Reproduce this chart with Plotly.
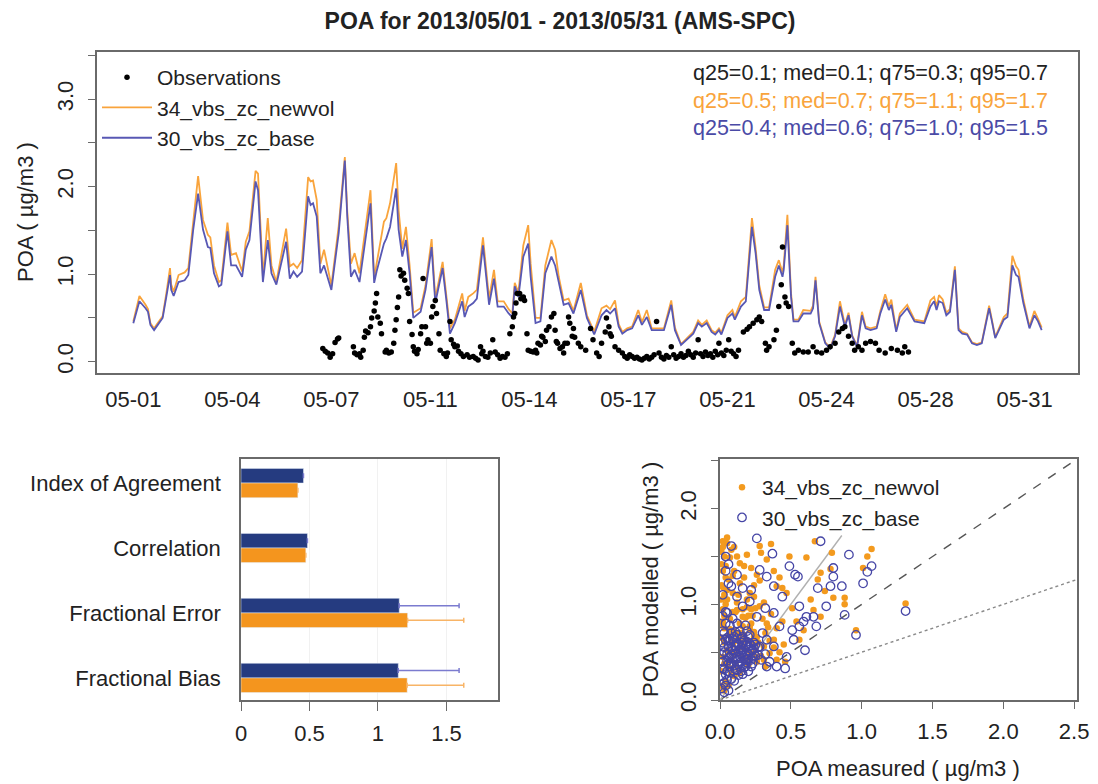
import pandas as pd
import plotly.graph_objects as go

START = pd.Timestamp("2013-05-01 00:00")
FONT = "Liberation Sans, Arial, Helvetica, sans-serif"

# ---------------- time series (hours since 2013-05-01 00:00) ----------------
model_hours = [
    0, 5, 10, 12, 14, 17, 20, 24, 27, 30,
    31, 33, 37, 42, 45, 49, 53, 57, 61, 63,
    66, 70, 72, 77, 80, 84, 89, 92, 95, 100,
    102, 106, 110, 113, 117, 125, 128, 131, 134, 138,
    143, 145, 147, 150, 153, 156, 162, 168, 173, 175,
    178, 181, 185, 194, 197, 199, 205, 207, 210, 215,
    217, 220, 223, 226, 229, 235, 239, 244, 247, 253,
    256, 259, 263, 269, 271, 274, 278, 281, 286, 291,
    295, 298, 303, 307, 310, 312, 315, 319, 323, 325,
    329, 333, 337, 342, 345, 348, 352, 356, 360, 366,
    371, 377, 383, 387, 390, 394, 397, 400, 404, 408,
    413, 416, 420, 424, 427, 434, 440, 443, 448, 453,
    458, 462, 465, 469, 473, 476, 479, 481, 486, 490,
    492, 497, 501, 506, 509, 512, 516, 520, 525, 528,
    531, 532, 535, 538, 540, 544, 548, 554, 556, 558,
    561, 566, 570, 574, 578, 582, 585, 588, 592, 596,
    599, 603, 608, 611, 615, 618, 620, 624, 627, 633,
    639, 647, 652, 655, 657, 659, 662, 665, 668, 672,
    675, 678, 682, 686, 690, 694, 700, 702, 705, 712,
    715, 719, 722, 724, 728, 733, 737, 740, 743,
]
base_values = [
    0.44, 0.69, 0.61, 0.57, 0.42, 0.36, 0.42, 0.50, 0.74, 0.99,
    0.82, 0.75, 0.91, 0.93, 0.99, 1.51, 1.92, 1.51, 1.31, 1.30,
    1.01, 0.86, 0.88, 1.49, 1.10, 1.10, 0.97, 1.28, 1.39, 2.06,
    1.96, 0.91, 1.39, 1.01, 0.88, 1.37, 0.95, 1.03, 0.97, 1.03,
    1.89, 1.79, 1.81, 1.66, 1.01, 1.10, 0.82, 1.47, 2.30, 1.66,
    0.97, 1.05, 0.91, 1.81, 0.90, 1.03, 1.35, 1.41, 1.54, 1.98,
    1.51, 1.20, 1.39, 1.01, 0.50, 0.57, 0.82, 1.31, 0.67, 1.07,
    0.71, 0.32, 0.44, 0.69, 0.51, 0.63, 0.67, 0.72, 1.33, 0.65,
    0.95, 0.63, 0.63, 0.55, 0.51, 0.86, 0.74, 1.20, 1.35, 0.97,
    0.44, 0.46, 1.01, 1.20, 1.10, 0.90, 0.65, 0.67, 0.55, 0.82,
    0.50, 0.31, 0.53, 0.59, 0.55, 0.61, 0.40, 0.32, 0.36, 0.38,
    0.53, 0.42, 0.51, 0.36, 0.36, 0.36, 0.65, 0.36, 0.19, 0.25,
    0.32, 0.44, 0.40, 0.44, 0.34, 0.31, 0.36, 0.31, 0.50, 0.55,
    0.48, 0.63, 0.69, 1.54, 1.24, 0.82, 0.59, 0.59, 0.97, 1.10,
    0.97, 1.05, 1.56, 0.74, 0.46, 0.46, 0.55, 0.55, 0.61, 0.93,
    0.44, 0.21, 0.15, 0.29, 0.63, 0.40, 0.53, 0.29, 0.17, 0.53,
    0.38, 0.36, 0.38, 0.55, 0.71, 0.59, 0.65, 0.34, 0.51, 0.61,
    0.46, 0.44, 0.63, 0.69, 0.59, 0.69, 0.67, 0.53, 0.57, 1.05,
    0.36, 0.32, 0.31, 0.21, 0.19, 0.21, 0.61, 0.48, 0.27, 0.48,
    0.51, 1.10, 0.99, 0.97, 0.67, 0.38, 0.53, 0.46, 0.36,
]
newvol_values = [
    0.46, 0.75, 0.65, 0.60, 0.44, 0.38, 0.44, 0.52, 0.78, 1.07,
    0.88, 0.80, 0.99, 1.02, 1.07, 1.60, 2.12, 1.62, 1.45, 1.42,
    1.10, 0.91, 0.93, 1.59, 1.22, 1.24, 1.03, 1.37, 1.49, 2.18,
    2.15, 0.97, 1.64, 1.10, 0.91, 1.52, 1.09, 1.12, 1.07, 1.16,
    2.11, 2.06, 2.07, 1.85, 1.12, 1.28, 0.87, 1.55, 2.34, 1.72,
    1.12, 1.24, 1.01, 1.96, 0.95, 1.12, 1.60, 1.64, 1.81, 2.27,
    1.73, 1.29, 1.54, 1.10, 0.56, 0.61, 0.87, 1.40, 0.72, 1.14,
    0.75, 0.38, 0.48, 0.78, 0.58, 0.74, 0.78, 0.82, 1.42, 0.72,
    1.05, 0.69, 0.69, 0.60, 0.55, 0.90, 0.79, 1.33, 1.56, 1.12,
    0.50, 0.50, 1.10, 1.39, 1.28, 0.97, 0.70, 0.72, 0.58, 0.90,
    0.53, 0.34, 0.61, 0.64, 0.60, 0.70, 0.43, 0.34, 0.38, 0.40,
    0.59, 0.45, 0.59, 0.38, 0.38, 0.38, 0.70, 0.39, 0.20, 0.27,
    0.34, 0.47, 0.42, 0.47, 0.36, 0.33, 0.38, 0.33, 0.53, 0.59,
    0.51, 0.69, 0.74, 1.64, 1.30, 0.87, 0.62, 0.62, 1.05, 1.16,
    1.02, 1.10, 1.68, 0.78, 0.48, 0.48, 0.59, 0.58, 0.64, 0.97,
    0.46, 0.22, 0.16, 0.31, 0.69, 0.42, 0.56, 0.30, 0.18, 0.57,
    0.40, 0.38, 0.40, 0.58, 0.77, 0.63, 0.71, 0.36, 0.55, 0.65,
    0.48, 0.46, 0.70, 0.74, 0.63, 0.76, 0.71, 0.56, 0.60, 1.09,
    0.38, 0.34, 0.32, 0.22, 0.20, 0.22, 0.64, 0.50, 0.28, 0.51,
    0.55, 1.21, 1.09, 1.05, 0.71, 0.40, 0.58, 0.49, 0.39,
]

obs_hours = [
    155, 157, 159, 161, 163, 165, 167, 168, 180, 181,
    183, 185, 186, 188, 189, 190, 192, 194, 195, 197,
    198, 199, 200, 202, 203, 206, 207, 209, 211, 213,
    214, 215, 216, 217, 218, 219, 221, 222, 224, 225,
    226, 228, 229, 230, 232, 233, 235, 236, 237, 239,
    240, 241, 243, 244, 245, 247, 248, 250, 251, 254,
    256, 257, 259, 260, 262, 263, 265, 266, 268, 270,
    273, 275, 278, 280, 282, 284, 285, 286, 288, 290,
    292, 294, 296, 298, 300, 302, 304, 306, 308, 310,
    311, 312, 313, 314, 316, 317, 319, 320, 322, 323,
    325, 327, 329, 330, 331, 333, 334, 335, 337, 338,
    340, 342, 344, 345, 346, 347, 349, 351, 352, 353,
    355, 356, 357, 359, 360, 361, 364, 366, 370, 374,
    376, 379, 381, 383, 386, 387, 389, 390, 391, 394,
    397, 400, 402, 404, 406, 408, 410, 412, 414, 416,
    418, 420, 422, 424, 426, 428, 430, 432, 434, 436,
    438, 440, 442, 444, 446, 448, 450, 452, 454, 456,
    458, 460, 462, 464, 466, 468, 470, 472, 474, 476,
    478, 479, 481, 483, 485, 487, 489, 491, 493, 495,
    499, 502, 504, 507, 510, 512, 514, 517, 518, 520,
    524, 526, 528, 530, 531, 533, 534, 536, 539, 541,
    544, 548, 552, 556, 559, 563, 567, 570, 574, 577,
    580, 582, 585, 588, 590, 593, 596, 599, 603, 607,
    610, 615, 620, 625, 629, 631, 634,
]
obs_values = [
    0.15, 0.12, 0.10, 0.05, 0.09, 0.22, 0.26, 0.27, 0.17, 0.10,
    0.08, 0.09, 0.05, 0.13, 0.28, 0.35, 0.33, 0.40, 0.50, 0.58,
    0.67, 0.78, 0.51, 0.44, 0.32, 0.11, 0.13, 0.10, 0.11, 0.21,
    0.36, 0.48, 0.62, 0.74, 1.05, 0.98, 1.01, 0.93, 0.84, 0.78,
    0.46, 0.31, 0.17, 0.12, 0.09, 0.14, 0.32, 0.40, 0.95, 0.40,
    0.21, 0.25, 0.21, 0.51, 0.63, 0.70, 0.55, 0.32, 0.13, 0.09,
    0.06, 0.10, 0.46, 0.25, 0.20, 0.17, 0.18, 0.12, 0.09, 0.06,
    0.08, 0.05, 0.06, 0.04, 0.02, 0.17, 0.09, 0.12, 0.06, 0.05,
    0.10, 0.25, 0.11, 0.08, 0.04, 0.06, 0.05, 0.09, 0.32, 0.40,
    0.51, 0.55, 0.67, 0.78, 0.78, 0.72, 0.74, 0.70, 0.32, 0.13,
    0.12, 0.11, 0.13, 0.10, 0.21, 0.19, 0.29, 0.28, 0.23, 0.36,
    0.40, 0.51, 0.55, 0.36, 0.23, 0.21, 0.15, 0.17, 0.10, 0.21,
    0.21, 0.51, 0.44, 0.29, 0.38, 0.28, 0.21, 0.17, 0.13, 0.38,
    0.25, 0.10, 0.06, 0.21, 0.34, 0.50, 0.40, 0.32, 0.29, 0.17,
    0.13, 0.10, 0.06, 0.04, 0.08, 0.06, 0.04, 0.05, 0.03, 0.02,
    0.04, 0.06, 0.03, 0.05, 0.08, 0.46, 0.10, 0.05, 0.03, 0.07,
    0.05, 0.17, 0.08, 0.04, 0.06, 0.09, 0.05, 0.07, 0.12, 0.08,
    0.05, 0.10, 0.25, 0.09, 0.06, 0.11, 0.07, 0.09, 0.05, 0.12,
    0.08, 0.21, 0.10, 0.07, 0.13, 0.25, 0.12, 0.09, 0.06, 0.13,
    0.34, 0.37, 0.40, 0.44, 0.48, 0.51, 0.46, 0.21, 0.13, 0.17,
    0.25, 0.36, 0.63, 0.88, 1.31, 0.74, 0.67, 0.63, 0.21, 0.10,
    0.13, 0.11, 0.11, 0.17, 0.11, 0.10, 0.13, 0.17, 0.21, 0.34,
    0.38, 0.40, 0.29, 0.21, 0.13, 0.17, 0.13, 0.21, 0.23, 0.21,
    0.13, 0.10, 0.15, 0.13, 0.10, 0.17, 0.11,
]

tick_hours = [0, 81, 162, 243, 324, 405, 486, 567, 648, 729]
tick_labels = ["05-01", "05-04", "05-07", "05-11", "05-14",
               "05-17", "05-21", "05-24", "05-28", "05-31"]

quantile_texts = [
    "q25=0.1; med=0.1; q75=0.3; q95=0.7",
    "q25=0.5; med=0.7; q75=1.1; q95=1.7",
    "q25=0.4; med=0.6; q75=1.0; q95=1.5",
]

# ---------------- statistics bar chart ----------------
metrics = ["Index of Agreement", "Correlation", "Fractional Error", "Fractional Bias"]
metric_base = [0.456, 0.485, 1.155, 1.148]
metric_newvol = [0.415, 0.473, 1.216, 1.213]
metric_base_err = [None, None, 0.437, 0.444]
metric_newvol_err = [None, None, 0.410, 0.413]
metric_err_minus = [None, None, 0.0, 0.0]

# ---------------- scatter: measured vs modelled ----------------
newvol_meas = [
    0.02, 0.05, 0.08, 0.07, 0.12, 0.14, 0.19, 0.22, 0.26, 0.28,
    0.29, 0.33, 0.36, 0.38, 0.42, 0.40, 0.44, 0.47, 0.49, 0.51,
    0.54, 0.56, 0.61, 0.64, 0.67, 0.69, 0.71, 0.71, 0.74, 0.78,
    0.79, 0.80, 0.88, 0.88, 0.96, 1.01, 1.04, 1.07, 1.31, 0.59,
    0.66, 0.46, 0.38, 0.33, 0.28, 0.24, 0.19, 0.14, 0.09, 0.06,
    0.04, 0.05, 0.12, 0.16, 0.21, 0.26, 0.31, 0.35, 0.40, 0.31,
    0.26,
    0.01, 0.02, 0.03, 0.03, 0.04, 0.05, 0.05, 0.06, 0.07, 0.08,
    0.08, 0.09, 0.10, 0.11, 0.12, 0.13, 0.14, 0.15, 0.16, 0.17,
    0.18, 0.19, 0.20, 0.21, 0.22, 0.23, 0.24, 0.25, 0.02, 0.04,
    0.01, 0.06, 0.03, 0.10, 0.13, 0.07, 0.11, 0.15, 0.18, 0.09,
    0.12, 0.16, 0.20, 0.27, 0.29, 0.32, 0.35, 0.30, 0.38, 0.42,
    0.45, 0.36, 0.40, 0.44,
    0.01, 0.02, 0.01, 0.03, 0.02, 0.10, 0.17, 0.24, 0.22, 0.10,
    0.01, 0.02, 0.03, 0.01, 0.02, 0.04, 0.01, 0.03, 0.02, 0.05,
    0.06, 0.08, 0.10, 0.12, 0.14, 0.16, 0.18, 0.20, 0.22, 0.24,
    0.03, 0.07, 0.11, 0.15, 0.19, 0.23, 0.05, 0.09, 0.13, 0.17,
    0.21, 0.25, 0.28, 0.31, 0.34, 0.08, 0.14, 0.20, 0.26, 0.32,
]
newvol_mod = [
    1.66, 1.64, 1.57, 1.49, 1.50, 1.43, 1.52, 1.38, 1.31, 1.61,
    1.54, 1.47, 1.63, 1.35, 1.28, 1.19, 1.17, 1.12, 1.50, 0.96,
    0.82, 0.63, 1.49, 1.05, 1.66, 1.26, 1.33, 0.87, 1.14, 1.37,
    1.54, 1.07, 1.07, 1.00, 0.73, 1.38, 1.50, 1.58, 1.01, 0.73,
    0.94, 0.40, 0.63, 0.80, 0.98, 1.08, 1.05, 1.22, 1.12, 1.26,
    1.40, 1.05, 0.94, 0.87, 0.77, 0.66, 0.56, 0.49, 0.42, 0.42,
    0.45,
    0.30, 0.45, 0.60, 0.75, 0.20, 0.35, 0.52, 0.68, 0.85, 0.28,
    0.42, 0.58, 0.72, 0.38, 0.50, 0.64, 0.80, 0.45, 0.56, 0.68,
    0.40, 0.52, 0.62, 0.74, 0.48, 0.58, 0.66, 0.52, 0.95, 1.00,
    0.15, 0.15, 0.10, 0.25, 0.32, 0.50, 0.62, 0.70, 0.86, 0.92,
    1.02, 0.95, 0.88, 0.60, 0.46, 0.70, 0.62, 0.85, 0.55, 0.50,
    0.58, 0.90, 0.75, 0.82,
    1.20, 1.35, 1.55, 1.10, 0.82, 1.35, 1.28, 1.20, 0.95, 1.60,
    0.65, 0.78, 0.88, 1.05, 1.18, 1.28, 1.42, 1.50, 1.60, 1.70,
    0.40, 0.62, 0.48, 0.70, 0.55, 0.77, 0.63, 0.45, 0.80, 0.71,
    0.38, 0.74, 0.92, 0.60, 0.97, 0.88, 1.15, 1.30, 1.10, 1.40,
    1.12, 0.96, 1.25, 1.02, 0.76, 0.33, 0.28, 0.36, 0.40, 0.35,
]
base_meas = [
    0.04, 0.04, 0.06, 0.08, 0.12, 0.16, 0.22, 0.26, 0.28, 0.33,
    0.37, 0.38, 0.44, 0.49, 0.53, 0.55, 0.56, 0.51, 0.52, 0.47,
    0.46, 0.40, 0.33, 0.60, 0.59, 0.61, 0.66, 0.69, 0.71, 0.78,
    0.80, 0.80, 0.86, 0.88, 0.91, 0.96, 1.01, 1.04, 1.07, 1.31,
    0.75, 0.68, 0.56, 0.42, 0.38, 0.32, 0.26, 0.21, 0.16, 0.12,
    0.08, 0.05, 0.33, 0.28, 0.38, 0.24, 0.19, 0.14,
    0.01, 0.02, 0.03, 0.03, 0.04, 0.05, 0.05, 0.06, 0.07, 0.08,
    0.08, 0.09, 0.10, 0.11, 0.12, 0.13, 0.14, 0.15, 0.16, 0.17,
    0.18, 0.19, 0.20, 0.21, 0.22, 0.23, 0.24, 0.25, 0.02, 0.04,
    0.01, 0.06, 0.03, 0.10, 0.13, 0.07, 0.11, 0.15, 0.18, 0.09,
    0.02, 0.06, 0.27, 0.29, 0.32, 0.35, 0.30, 0.12, 0.05, 0.20,
    0.02, 0.03, 0.04, 0.05, 0.06, 0.07, 0.08, 0.09, 0.10, 0.11,
    0.12, 0.13, 0.14, 0.15, 0.16, 0.17, 0.18, 0.19, 0.20, 0.21,
    0.22, 0.23, 0.24, 0.02, 0.04, 0.06, 0.08, 0.10, 0.12, 0.14,
    0.16, 0.18, 0.20, 0.22, 0.01, 0.03, 0.05, 0.07, 0.09, 0.11,
    0.13, 0.15, 0.17, 0.19, 0.21, 0.23, 0.25, 0.27, 0.04, 0.08,
    0.12, 0.16, 0.20, 0.03, 0.07, 0.11, 0.15, 0.19, 0.02, 0.06,
]
base_mod = [
    1.50, 1.35, 1.42, 1.61, 1.31, 1.17, 1.15, 1.69, 1.36, 1.29,
    1.53, 1.19, 1.08, 1.40, 1.31, 1.29, 0.98, 0.73, 0.63, 0.45,
    0.33, 0.35, 0.35, 0.52, 0.82, 0.87, 0.87, 1.17, 1.66, 1.19,
    1.38, 1.29, 1.19, 0.89, 1.52, 0.68, 1.22, 1.34, 1.40, 0.93,
    0.98, 0.77, 0.77, 0.77, 0.91, 0.96, 0.87, 1.03, 0.98, 1.08,
    1.19, 0.91, 0.63, 0.56, 0.56, 0.49, 0.42, 0.35,
    0.25, 0.40, 0.55, 0.70, 0.15, 0.30, 0.48, 0.62, 0.78, 0.22,
    0.38, 0.52, 0.66, 0.32, 0.45, 0.58, 0.72, 0.40, 0.50, 0.62,
    0.35, 0.46, 0.56, 0.68, 0.42, 0.52, 0.60, 0.46, 0.88, 0.92,
    0.12, 0.10, 0.08, 0.20, 0.26, 0.45, 0.56, 0.64, 0.78, 0.85,
    1.10, 1.22, 0.55, 0.42, 0.48, 0.40, 0.70, 0.80, 0.65, 0.30,
    0.33, 0.50, 0.63, 0.41, 0.56, 0.29, 0.47, 0.64, 0.36, 0.49,
    0.59, 0.37, 0.53, 0.30, 0.66, 0.44, 0.57, 0.39, 0.48, 0.59,
    0.35, 0.45, 0.54, 0.60, 0.27, 0.44, 0.70, 0.57, 0.31, 0.45,
    0.60, 0.42, 0.66, 0.57, 0.48, 0.32, 0.21, 0.62, 0.44, 0.71,
    0.51, 0.55, 0.34, 0.61, 0.51, 0.38, 0.58, 0.47, 0.80, 0.55,
    0.68, 0.27, 0.43, 0.18, 0.35, 0.43, 0.48, 0.72, 0.72, 0.38,
]

# reference lines (slope, x-end) for 1:1, 1:2 and 2:1
ref_slopes = [1.0, 0.5, 2.0]
ref_x_end = [2.52, 2.52, 0.86]
ref_styles = [("#555555", "dash"), ("#8a8a8a", "dot"), ("#b0b0b0", "solid")]

# ---------------- colours ----------------
C_ORANGE_LINE = "#F9A43C"
C_BLUE_LINE = "#5858B4"
C_ORANGE_BAR = "#F4951E"
C_BLUE_BAR = "#253B80"
C_ORANGE_PT = "#F39A1E"
C_BLUE_PT = "#4646A6"
AXIS = "#6a6a6a"
TXT = "#222222"

# the page body margin is removed (post_script) -> figure fills the window
W, H = 1098, 784
def px_x(p): return p / W
def px_y(p): return 1 - p / H

def to_time(hours):
    return START + pd.to_timedelta(pd.Series(hours, dtype=float), unit="h")

fig = go.Figure()

# --- time series ---
fig.add_trace(go.Scatter(x=to_time(model_hours), y=newvol_values, mode="lines",
                         name="34_vbs_zc_newvol", line=dict(color=C_ORANGE_LINE, width=1.8),
                         xaxis="x", yaxis="y", legend="legend", legendrank=2))
fig.add_trace(go.Scatter(x=to_time(model_hours), y=base_values, mode="lines",
                         name="30_vbs_zc_base", line=dict(color=C_BLUE_LINE, width=1.8),
                         xaxis="x", yaxis="y", legend="legend", legendrank=3))
fig.add_trace(go.Scatter(x=to_time(obs_hours), y=obs_values, mode="markers",
                         name="Observations", marker=dict(color="black", size=5.5),
                         xaxis="x", yaxis="y", legend="legend", legendrank=1))

# --- bar chart ---
fig.add_trace(go.Bar(y=metrics, x=metric_base, orientation="h", marker_color=C_BLUE_BAR,
                     error_x=dict(type="data", symmetric=False, array=metric_base_err,
                                  arrayminus=metric_err_minus, color="#7B7BCF", thickness=1.5, width=2.5),
                     xaxis="x2", yaxis="y2", showlegend=False, name="30_vbs_zc_base"))
fig.add_trace(go.Bar(y=metrics, x=metric_newvol, orientation="h", marker_color=C_ORANGE_BAR,
                     error_x=dict(type="data", symmetric=False, array=metric_newvol_err,
                                  arrayminus=metric_err_minus, color="#F8B466", thickness=1.5, width=2.5),
                     xaxis="x2", yaxis="y2", showlegend=False, name="34_vbs_zc_newvol"))

# --- scatter ---
for s, xe, (c, d) in zip(ref_slopes, ref_x_end, ref_styles):
    fig.add_trace(go.Scatter(x=[0, xe], y=[0, s * xe], mode="lines",
                             line=dict(color=c, dash=d, width=1.4),
                             xaxis="x3", yaxis="y3", showlegend=False, hoverinfo="skip"))
fig.add_trace(go.Scatter(x=newvol_meas, y=newvol_mod, mode="markers", name="34_vbs_zc_newvol",
                         marker=dict(color=C_ORANGE_PT, size=6.5, line=dict(width=0)),
                         xaxis="x3", yaxis="y3", legend="legend2"))
fig.add_trace(go.Scatter(x=base_meas, y=base_mod, mode="markers", name="30_vbs_zc_base",
                         marker=dict(color=C_BLUE_PT, size=8.5, symbol="circle-open",
                                     line=dict(width=1.3, color=C_BLUE_PT)),
                         xaxis="x3", yaxis="y3", legend="legend2"))

tick_font = dict(family=FONT, size=22, color=TXT)
box = dict(showline=True, mirror=True, linecolor=AXIS, linewidth=1.5, zeroline=False,
           automargin=False)

fig.update_layout(
    width=W, height=H, margin=dict(l=0, r=0, t=0, b=0, autoexpand=False),
    paper_bgcolor="white", plot_bgcolor="white",
    font=dict(family=FONT, size=22, color=TXT),
    title=dict(text="<b>POA for 2013/05/01 - 2013/05/31 (AMS-SPC)</b>",
               x=px_x(560), y=px_y(21), xanchor="center", yanchor="middle",
               font=dict(family=FONT, size=23, color=TXT)),
    barmode="group", bargap=0.55, bargroupgap=0.0,
    xaxis=dict(domain=[px_x(97), px_x(1078)], anchor="y", type="date",
               range=[START + pd.Timedelta(hours=-29.7), START + pd.Timedelta(hours=772.7)],
               tickvals=list(to_time(tick_hours)), ticktext=tick_labels, ticks="",
               ticklabelstandoff=6, showgrid=False, tickfont=tick_font, **box),
    yaxis=dict(domain=[px_y(373), px_y(52)], anchor="x", range=[-0.13, 3.54],
               tickvals=[0, 0.5, 1, 1.5, 2, 2.5, 3, 3.5],
               ticktext=["0.0", "", "1.0", "", "2.0", "", "3.0", ""],
               ticks="outside", ticklen=7, tickcolor=AXIS, tickangle=-90,
               ticklabelstandoff=6, showgrid=False, tickfont=tick_font, **box),
    xaxis2=dict(domain=[px_x(241), px_x(498)], anchor="y2", range=[0, 1.876],
                tickvals=[0, 0.5, 1, 1.5], ticktext=["0", "0.5", "1", "1.5"],
                ticks="outside", ticklen=9, tickcolor=AXIS, ticklabelstandoff=4,
                showgrid=True, gridcolor="#f1f1f1", tickfont=tick_font, **box),
    yaxis2=dict(domain=[px_y(700), px_y(459)], anchor="x2", type="category",
                categoryorder="array", categoryarray=metrics, range=[3.34, -0.37],
                ticks="", ticklabelstandoff=14, showgrid=False, tickfont=tick_font, **box),
    xaxis3=dict(domain=[px_x(720), px_x(1077)], anchor="y3", range=[0, 2.52],
                tickvals=[0, 0.5, 1, 1.5, 2, 2.5],
                ticktext=["0.0", "0.5", "1.0", "1.5", "2.0", "2.5"],
                ticks="outside", ticklen=7, tickcolor=AXIS, ticklabelstandoff=4,
                showgrid=False, tickfont=tick_font, **box),
    yaxis3=dict(domain=[px_y(700), px_y(459)], anchor="x3", range=[0, 2.52],
                tickvals=[0, 0.5, 1, 1.5, 2, 2.5],
                ticktext=["0.0", "", "1.0", "", "2.0", ""],
                ticks="outside", ticklen=7, tickcolor=AXIS, tickangle=-90,
                ticklabelstandoff=6, showgrid=False, tickfont=tick_font, **box),
    legend=dict(x=px_x(97), y=px_y(57), xanchor="left", yanchor="top",
                bgcolor="rgba(0,0,0,0)", font=dict(family=FONT, size=21, color=TXT),
                tracegroupgap=0, itemwidth=50),
    legend2=dict(x=px_x(722), y=px_y(467), xanchor="left", yanchor="top",
                 bgcolor="rgba(0,0,0,0)", font=dict(family=FONT, size=21, color=TXT),
                 tracegroupgap=0),
)

# quantile summary texts
q_colors = [TXT, C_ORANGE_LINE, "#4A4AA6"]
q_rows = [73, 101, 128]
for t, c, r in zip(quantile_texts, q_colors, q_rows):
    fig.add_annotation(text=t, xref="paper", yref="paper", x=px_x(1050), y=px_y(r),
                       xanchor="right", yanchor="middle", showarrow=False,
                       font=dict(family=FONT, size=21.5, color=c))

# axis titles
fig.add_annotation(text="POA ( µg/m3 )", xref="paper", yref="paper", x=px_x(25), y=px_y(212),
                   textangle=-90, showarrow=False, xanchor="center", yanchor="middle",
                   font=dict(family=FONT, size=22, color=TXT))
fig.add_annotation(text="POA modelled ( µg/m3 )", xref="paper", yref="paper", x=px_x(650), y=px_y(580),
                   textangle=-90, showarrow=False, xanchor="center", yanchor="middle",
                   font=dict(family=FONT, size=22, color=TXT))
fig.add_annotation(text="POA measured ( µg/m3 )", xref="paper", yref="paper", x=px_x(898), y=px_y(768),
                   showarrow=False, xanchor="center", yanchor="middle",
                   font=dict(family=FONT, size=22, color=TXT))

fig.write_html("out.html", config={"displayModeBar": False},
               post_script="document.body.style.margin='0';")
